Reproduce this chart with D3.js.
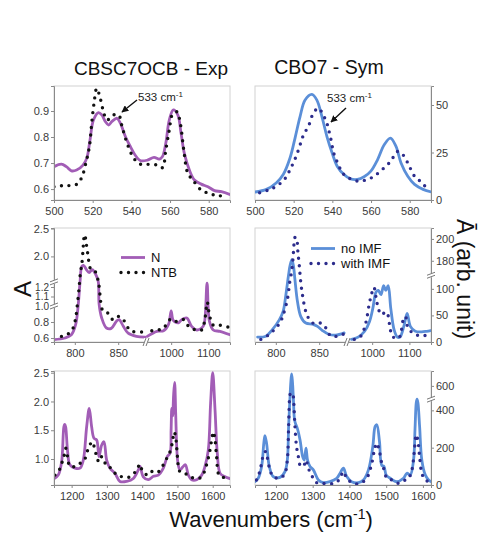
<!DOCTYPE html>
<html>
<head>
<meta charset="utf-8">
<script src="https://cdn.jsdelivr.net/npm/d3@7"></script>
<style>
body { margin: 0; background: #fff; }
svg { display: block; font-family: "Liberation Sans", Arial, sans-serif; }
</style>
</head>
<body>
<div class="chart"></div>
<script>
// ---- data: [wavenumber, absorbance] ----
const topExpN = [[500,0.686],[503.8,0.696],[506.4,0.686],[509,0.67],[511.7,0.673],[515,0.692],[517,0.72],[518.6,0.788],[520.4,0.865],[523,0.894],[524.7,0.885],[526.5,0.86],[528.2,0.846],[530,0.86],[532.6,0.872],[534.3,0.853],[537,0.80],[539.5,0.763],[542,0.73],[544.8,0.709],[548.3,0.711],[551.7,0.722],[554.4,0.715],[556,0.724],[557.8,0.776],[559.6,0.865],[561.7,0.904],[564,0.885],[565.7,0.814],[567.4,0.737],[570,0.673],[572.6,0.635],[576.1,0.619],[579.6,0.609],[583,0.594],[586.6,0.59],[591.8,0.577]];
const topExpNTB = [[500,0.609],[504,0.613],[511.7,0.618],[514.3,0.644],[516.5,0.701],[518.3,0.763],[519.5,0.853],[520.7,0.93],[522.1,0.987],[523.9,0.949],[525.6,0.897],[527.4,0.865],[530.8,0.885],[533.4,0.885],[535.2,0.84],[537.8,0.776],[541.3,0.718],[544.8,0.695],[549.1,0.695],[553.5,0.692],[556.1,0.682],[557.8,0.75],[559.6,0.827],[561.3,0.888],[563.6,0.897],[565.3,0.853],[567.1,0.75],[569.2,0.66],[571.8,0.635],[576.1,0.596],[580.5,0.583],[584.8,0.574],[589.2,0.577]];
const topSymNoIMF = [[500,4.2],[505.9,5.6],[511.1,9.1],[514.6,13.4],[518.1,22.1],[520.7,32.6],[523.3,43.9],[525.9,52.6],[529.4,55.6],[532,52.6],[534.6,43.9],[537.2,33.4],[539.9,24.7],[542.5,17.8],[546,13.4],[549.4,11.1],[552.9,10.8],[556.4,12.2],[559.9,15.2],[563.4,21.3],[566.8,29.1],[570,32.6],[572.9,28.2],[575.5,19.5],[579,12.5],[582.5,8.2],[586.9,5.6],[591.2,4.2]];
const topSymIMF = [[502.4,3.8],[506.8,5.2],[510.3,6.8],[513.8,9.4],[516.4,12.5],[518.1,16],[519.8,19.5],[521.6,23.9],[523.3,29],[525.1,34.3],[527.7,39],[530.3,46],[532.9,48.3],[535.2,44.8],[536.9,41.3],[538.1,36.9],[539.3,31.7],[540.7,24.7],[542.5,20],[544.3,16],[546,13.4],[549.4,11.1],[553.8,9.9],[558.1,10.8],[561.6,12.5],[565.1,15.5],[568.6,18.6],[571.2,22.1],[573.8,25.6],[576.4,23.9],[579,19.5],[582.5,12.5],[586,9.4],[588.6,6.4]];

// middle row, split at the axis break
const midExpN1 = [[776,0.58],[788.5,0.6],[796,0.64],[801,0.77],[804,1.02],[806,1.3],[808,1.82],[810,1.84],[813.5,1.76],[816.5,1.71],[820,1.76],[824,1.68],[827,1.5],[828,1.02],[831,0.85],[836.5,0.725],[842,0.72],[848,0.81],[851,0.83],[856,0.745],[861.5,0.66],[871,0.62],[881,0.61]];
const midExpN2 = [[936,0.62],[961.6,0.683],[979.5,0.69],[992.9,0.77],[1000,0.94],[1004.5,0.83],[1010.7,0.80],[1019.6,0.79],[1028.6,0.83],[1042,0.85],[1055,0.745],[1068.8,0.70],[1082,0.725],[1088.4,0.77],[1096.4,1.24],[1102.7,0.81],[1113,0.70],[1131,0.683],[1158,0.64]];
const midExpNTB1 = [[784.6,0.62],[792,0.65],[798,0.725],[801,0.85],[803,1.02],[805,1.2],[806.5,1.71],[808,1.85],[809.6,2.15],[810.4,2.32],[811.5,2.39],[812.7,2.29],[814,2.14],[815.4,2.0],[817,1.82],[819,1.76],[823,1.74],[827,1.56],[829,1.12],[832,0.95],[836.5,0.93],[844,0.83],[850,0.87],[855.8,0.83],[861.5,0.725],[867,0.68],[877,0.675]];
const midExpNTB2 = [[948,0.69],[966,0.70],[979.5,0.725],[992.9,0.81],[1000,0.84],[1010.7,0.81],[1024,0.81],[1033,0.83],[1042,0.77],[1055,0.72],[1068.8,0.70],[1082,0.70],[1091,0.85],[1097,1.04],[1102.7,0.89],[1113,0.76],[1131,0.76],[1158,0.73]];
const midSymNoIMF1 = [[779,9.2],[788.5,11],[796,23.3],[804,41.7],[808.5,58],[811.5,87.7],[814.6,125],[816.5,176],[818.5,181],[820.4,175],[822,118],[825,75.5],[828.8,47.9],[834.6,35.6],[842.3,33.7],[848,29.4],[853.8,21.5],[861.5,14.1],[869,12.9],[878.8,17.2]];
const midSymNoIMF2 = [[944.7,4.9],[962.3,9.2],[979.8,20.2],[993,38.7],[1001.8,63.2],[1010.5,93.9],[1016.7,96.9],[1023.7,89],[1030.7,106],[1036.8,97],[1043,106],[1050,63.2],[1058.8,23.3],[1067.5,9.2],[1074.6,9.2],[1085,29.4],[1093.9,54],[1102.6,29.4],[1115.8,20.2],[1133,19],[1146.5,20.2],[1157,21.5]];
const midSymIMF1 = [[782.7,4.9],[792.3,14],[800,26.4],[804.6,35.6],[808.5,51],[813.5,81.6],[816,112],[818.5,171.7],[820,184],[821,195.4],[822.3,201.5],[823.8,201],[825.4,188.6],[827,176],[828.8,112],[830.8,87.7],[834.6,57],[838.5,43],[844.2,34.4],[851.9,35.6],[857.7,26.4],[863.5,11],[871,11],[878.8,15.3]];
const midSymIMF2 = [[952,4.9],[969.6,11],[982.8,35.6],[991.6,69.3],[998.6,90.8],[1004.7,103],[1011,81.6],[1017.7,60],[1026.5,51],[1035.2,57],[1042.2,51],[1048,26.4],[1054.5,11],[1066,6],[1074.7,11],[1083.5,41.7],[1089.5,47.9],[1096.5,26.4],[1115.8,14],[1133,12.3],[1150.9,12.3]];

const botExpN = [[1150.8,0.66],[1162,0.72],[1171.6,0.95],[1178,1.56],[1180.5,1.6],[1183,1.56],[1188.6,1.13],[1195,0.9],[1209.5,0.84],[1223.6,0.84],[1233,0.98],[1242.6,1.56],[1250,1.88],[1256.7,1.56],[1263.4,1.36],[1271,1.33],[1277.5,1.04],[1285,1.24],[1291.7,1.30],[1299.3,0.98],[1308.7,0.84],[1323,0.75],[1337,0.61],[1356,0.61],[1375,0.66],[1389,0.81],[1394,0.87],[1403,0.69],[1417.5,0.64],[1431.7,0.70],[1446,0.72],[1460,0.84],[1471,1.04],[1479,1.10],[1482,1.5],[1484,1.88],[1486.5,1.75],[1489,2.1],[1492,2.33],[1495,1.8],[1498,1.2],[1501,0.95],[1507,0.81],[1514.9,0.86],[1522.5,0.9],[1531,0.72],[1540,0.64],[1554.6,0.64],[1568.8,0.72],[1578,0.87],[1587.5,1.16],[1594,1.97],[1600,2.5],[1606.6,1.85],[1613,1.10],[1621,0.75],[1635,0.69],[1649,0.66]];
const botExpNTB = [[1152.7,0.72],[1165,0.81],[1171.6,0.92],[1178,1.04],[1183,1.19],[1188.6,1.04],[1195,0.87],[1209.5,0.87],[1219,0.91],[1231,0.95],[1240.7,1.04],[1247,1.19],[1254,1.27],[1256.7,1.3],[1264.3,1.21],[1271,1.04],[1277.5,0.95],[1285,1.04],[1291.7,0.98],[1299.3,0.87],[1313.5,0.84],[1327.7,0.72],[1346.6,0.69],[1365.5,0.69],[1384.4,0.81],[1394,0.91],[1401.4,0.78],[1417.5,0.72],[1431.7,0.80],[1446,0.78],[1460,0.9],[1472,1.04],[1481,1.16],[1486.5,1.33],[1491,1.47],[1496,1.33],[1500,1.04],[1507,0.78],[1521.5,0.75],[1535.7,0.69],[1554.6,0.66],[1568.8,0.69],[1581,0.87],[1590.5,1.10],[1597,1.33],[1601.8,1.47],[1606.6,1.33],[1611,1.04],[1618,0.72],[1630.6,0.68],[1644.5,0.66]];
const botSymNoIMF = [[1143,18],[1151.8,36],[1161,99],[1167,224],[1170,264],[1174.5,224],[1182,99],[1192.7,45],[1211,41],[1224.5,72],[1231,134],[1234.5,314],[1238,460],[1240.5,640],[1242.7,726],[1245,640],[1247.5,460],[1250,360],[1253,330],[1258,305],[1265.5,242],[1272.7,152],[1277,134],[1281.8,197],[1286,134],[1292.7,99],[1301.8,81],[1315.5,27],[1329,12.6],[1347,18],[1365.5,36],[1374.5,63],[1383.6,90],[1392.7,45],[1406,18],[1424.5,12.6],[1438,27],[1451.8,81],[1463.6,206],[1470,314],[1474.5,323],[1481.8,233],[1488,105],[1494,100],[1500,54],[1511,36],[1529,18],[1547,36],[1556.4,63],[1565.5,54],[1574.5,134],[1578.5,300],[1581.8,440],[1584,460],[1586.5,440],[1591,314],[1597,134],[1606.4,54],[1615.5,27],[1622,18]];
const botSymIMF = [[1147,27],[1154.5,63],[1161,117],[1167,170],[1171.8,179],[1176,152],[1183.6,81],[1192.7,45],[1211,36],[1224.5,63],[1231,134],[1234.5,314],[1237,460],[1239,515],[1242,528],[1245.5,523],[1248,460],[1249.5,403],[1251.8,314],[1256,206],[1261,152],[1265.5,108],[1274.5,99],[1281.8,134],[1288,90],[1297,54],[1306,18],[1320,9],[1338,9],[1361,9],[1374.5,36],[1383.6,72],[1392.7,36],[1411,9],[1429,9],[1447,36],[1461,117],[1468,188],[1474.5,224],[1481.8,179],[1488,117],[1494.5,81],[1502,36],[1515.5,27],[1533.6,9],[1551.8,27],[1561,36],[1570,81],[1576,170],[1581.8,269],[1586,242],[1591,152],[1597,63],[1606.4,27],[1615.5,18]];

// ticks
const topXTicks = [500, 520, 540, 560, 580];
const midXTicks = [800, 850, 1000, 1100];
const botXTicks = [1200, 1300, 1400, 1500, 1600];
const topExpYTicks = [0.6, 0.7, 0.8, 0.9];
const topSymYTicks = [0, 25, 50];
const midExpYTicks = [0.6, 0.8, 1.0, 1.1, 1.2, 2.0, 2.5];
const midSymYTicks = [0, 50, 100, 180, 200];
const botExpYTicks = [1.0, 1.5, 2.0, 2.5];
const botSymYTicks = [0, 200, 400, 600];

const purple = '#a25db6', blue = '#5b8fd8', navy = '#2c2c8c', black = '#111';

const W = 481, H = 535;
const svg = d3.select('.chart').append('svg').attr('width', W).attr('height', H);
svg.append('rect').attr('width', W).attr('height', H).attr('fill', '#fff');
const defs = svg.append('defs');
defs.append('marker').attr('id', 'arrow')
    .attr('viewBox', '0 0 10 10').attr('refX', 9).attr('refY', 5)
    .attr('markerWidth', 5).attr('markerHeight', 5).attr('orient', 'auto')
    .append('path').attr('d', 'M0,0L10,5L0,10z').attr('fill', black);

const cols = [{x0: 54, x1: 230}, {x0: 255, x1: 431}];
const rows = [{y0: 86, y1: 200}, {y0: 228, y1: 342}, {y0: 371, y1: 485}];

const solid = c => ({stroke: c, width: 2.8, dash: null});
const dotted = c => ({stroke: c, width: 3.4, dash: '0,7.5'});

const panels = [
    {col: 0, row: 0, xDomain: [500, 591], xFrac: [0, 1], yDomain: [0.558, 0.996], yFrac: [0, 1],
     xTicks: topXTicks, yTicks: topExpYTicks, yFmt: '.1f', side: 'left',
     series: [{parts: [topExpN], style: solid(purple)}, {parts: [topExpNTB], style: dotted(black)}]},
    {col: 1, row: 0, xDomain: [500, 591], xFrac: [0, 1], yDomain: [0, 60], yFrac: [0, 1],
     xTicks: topXTicks, yTicks: topSymYTicks, yFmt: 'd', side: 'right',
     series: [{parts: [topSymNoIMF], style: solid(blue)}, {parts: [topSymIMF], style: dotted(navy)}]},
    {col: 0, row: 1, xDomain: [776, 881.5, 934, 1158], xFrac: [0, 0.52, 0.526, 1],
     yDomain: [0.55, 1.0, 1.25, 1.55, 2.51], yFrac: [0, 0.316, 0.524, 0.531, 1],
     xTicks: midXTicks, yTicks: midExpYTicks, yFmt: '.1f', side: 'left', xBreak: 907, yBreaks: [1.4, 1.0],
     series: [{parts: [midExpN1, midExpN2], style: solid(purple)}, {parts: [midExpNTB1, midExpNTB2], style: dotted(black)}]},
    {col: 1, row: 1, xDomain: [776, 881.5, 934, 1158], xFrac: [0, 0.52, 0.526, 1],
     yDomain: [0, 125, 167, 210], yFrac: [0, 0.583, 0.588, 1],
     xTicks: midXTicks, yTicks: midSymYTicks, yFmt: 'd', side: 'right', xBreak: 907, yBreaks: [146],
     series: [{parts: [midSymNoIMF1, midSymNoIMF2], style: solid(blue)}, {parts: [midSymIMF1, midSymIMF2], style: dotted(navy)}]},
    {col: 0, row: 2, xDomain: [1150, 1649], xFrac: [0, 1], yDomain: [0.548, 2.53], yFrac: [0, 1],
     xTicks: botXTicks, yTicks: botExpYTicks, yFmt: '.1f', side: 'left',
     series: [{parts: [botExpN], style: solid(purple)}, {parts: [botExpNTB], style: dotted(black)}]},
    {col: 1, row: 2, xDomain: [1143, 1622], xFrac: [0, 1], yDomain: [0, 460, 757], yFrac: [0, 0.753, 1],
     xTicks: botXTicks, yTicks: botSymYTicks, yFmt: 'd', side: 'right', yBreaks: [460],
     series: [{parts: [botSymNoIMF], style: solid(blue)}, {parts: [botSymIMF], style: dotted(navy)}]}
];

function breakMark(g, cx, cy, vertical) {
    // two short slanted strokes with a white gap, like Origin's axis break
    const m = g.append('g');
    if (vertical) {
        m.append('rect').attr('x', cx - 4).attr('y', cy - 2).attr('width', 8).attr('height', 4).attr('fill', '#fff');
        m.append('path').attr('d', `M${cx - 4},${cy}L${cx + 4},${cy - 3}M${cx - 4},${cy + 3}L${cx + 4},${cy}`)
            .attr('stroke', '#777').attr('fill', 'none');
    } else {
        m.append('rect').attr('x', cx - 2).attr('y', cy - 4).attr('width', 4).attr('height', 8).attr('fill', '#fff');
        m.append('path').attr('d', `M${cx - 3},${cy + 4}L${cx},${cy - 4}M${cx},${cy + 4}L${cx + 3},${cy - 4}`)
            .attr('stroke', '#777').attr('fill', 'none');
    }
}

panels.forEach((p, i) => {
    const c = cols[p.col], r = rows[p.row];
    const x = d3.scaleLinear().domain(p.xDomain).range(p.xFrac.map(f => c.x0 + f * (c.x1 - c.x0)));
    const y = d3.scaleLinear().domain(p.yDomain).range(p.yFrac.map(f => r.y1 - f * (r.y1 - r.y0)));
    const g = svg.append('g').attr('class', 'panel');

    defs.append('clipPath').attr('id', 'clip' + i).append('rect')
        .attr('x', c.x0).attr('y', r.y0).attr('width', c.x1 - c.x0).attr('height', r.y1 - r.y0);

    g.append('rect')
        .attr('x', c.x0).attr('y', r.y0).attr('width', c.x1 - c.x0).attr('height', r.y1 - r.y0)
        .attr('fill', 'none').attr('stroke', '#d2d2d2');

    const line = d3.line()
        .x(d => x(d[0]))
        .y(d => y(d[1]))
        .curve(d3.curveCatmullRom.alpha(0.5));

    p.series.forEach(s => {
        s.parts.forEach(part => {
            g.append('path')
                .attr('clip-path', `url(#clip${i})`)
                .attr('d', line(part))
                .attr('fill', 'none')
                .attr('stroke', s.style.stroke)
                .attr('stroke-width', s.style.width)
                .attr('stroke-linecap', 'round')
                .attr('stroke-linejoin', 'round')
                .attr('stroke-dasharray', s.style.dash);
        });
    });

    const xAxis = g.append('g')
        .attr('transform', `translate(0,${r.y1})`)
        .call(d3.axisBottom(x).tickValues(p.xTicks).tickSize(3).tickPadding(4).tickFormat(d3.format('d')));
    const yAxisGen = p.side === 'left' ? d3.axisLeft(y) : d3.axisRight(y);
    const yAxis = g.append('g')
        .attr('transform', `translate(${p.side === 'left' ? c.x0 : c.x1},0)`)
        .call(yAxisGen.tickValues(p.yTicks).tickSize(3).tickPadding(2).tickFormat(d3.format(p.yFmt)));

    [xAxis, yAxis].forEach(a => {
        a.select('.domain').attr('stroke', '#8a8a8a');
        a.selectAll('.tick line').attr('stroke', '#8a8a8a');
        a.selectAll('.tick text').attr('fill', '#3a3a3a').style('font-size', '11px')
            .style('font-family', '"Liberation Sans", Arial, sans-serif');
    });
    // the squeezed 1.0-1.2 labels are set a bit smaller
    yAxis.selectAll('.tick text').filter(d => d > 0.95 && d < 1.25).style('font-size', '10px');

    if (p.xBreak) breakMark(g, x(p.xBreak), r.y1, false);
    (p.yBreaks || []).forEach(v => breakMark(g, p.side === 'left' ? c.x0 : c.x1, y(v), true));
});

// titles
svg.append('text').attr('x', 151).attr('y', 75).attr('text-anchor', 'middle')
    .style('font-size', '19px').attr('fill', '#111').text('CBSC7OCB - Exp');
svg.append('text').attr('x', 329).attr('y', 74).attr('text-anchor', 'middle')
    .style('font-size', '19.5px').attr('fill', '#111').text('CBO7 - Sym');

// 533 cm-1 annotations
function annot(tx, ty, ax1, ay1, ax2, ay2) {
    const t = svg.append('text').attr('x', tx).attr('y', ty).style('font-size', '11.5px').attr('fill', '#222');
    t.append('tspan').text('533 cm');
    t.append('tspan').attr('dy', -4).style('font-size', '8px').text('-1');
    svg.append('line').attr('x1', ax1).attr('y1', ay1).attr('x2', ax2).attr('y2', ay2)
        .attr('stroke', black).attr('stroke-width', 1.4).attr('marker-end', 'url(#arrow)');
}
annot(138, 101, 137, 100, 122, 112);
annot(327, 102, 346, 108, 331, 122);

// legends
function legend(x, y, label1, label2, c1, c2) {
    svg.append('line').attr('x1', x).attr('x2', x + 24).attr('y1', y).attr('y2', y)
        .attr('stroke', c1).attr('stroke-width', 2.8);
    svg.append('text').attr('x', x + 30).attr('y', y + 4.5).style('font-size', '13px').attr('fill', '#111').text(label1);
    svg.append('line').attr('x1', x).attr('x2', x + 25).attr('y1', y + 15).attr('y2', y + 15)
        .attr('stroke', c2).attr('stroke-width', 3.4).attr('stroke-linecap', 'round').attr('stroke-dasharray', '0,7.5');
    svg.append('text').attr('x', x + 30).attr('y', y + 19.5).style('font-size', '13px').attr('fill', '#111').text(label2);
}
legend(121, 257.5, 'N', 'NTB', purple, black);
legend(311, 248.5, 'no IMF', 'with IMF', blue, navy);

// axis titles
svg.append('text').attr('transform', 'translate(31,289) rotate(-90)').attr('text-anchor', 'middle')
    .style('font-size', '24px').attr('fill', '#111').text('A');
svg.append('text').attr('transform', 'translate(457,279) rotate(90)').attr('text-anchor', 'middle')
    .style('font-size', '23px').attr('fill', '#111').text('Ā (arb. unit)');
const xt = svg.append('text').attr('x', 271).attr('y', 527).attr('text-anchor', 'middle')
    .style('font-size', '22px').attr('fill', '#111');
xt.append('tspan').text('Wavenumbers (cm');
xt.append('tspan').attr('dy', -8).style('font-size', '14px').text('-1');
xt.append('tspan').attr('dy', 8).text(')');
</script>
</body>
</html>
